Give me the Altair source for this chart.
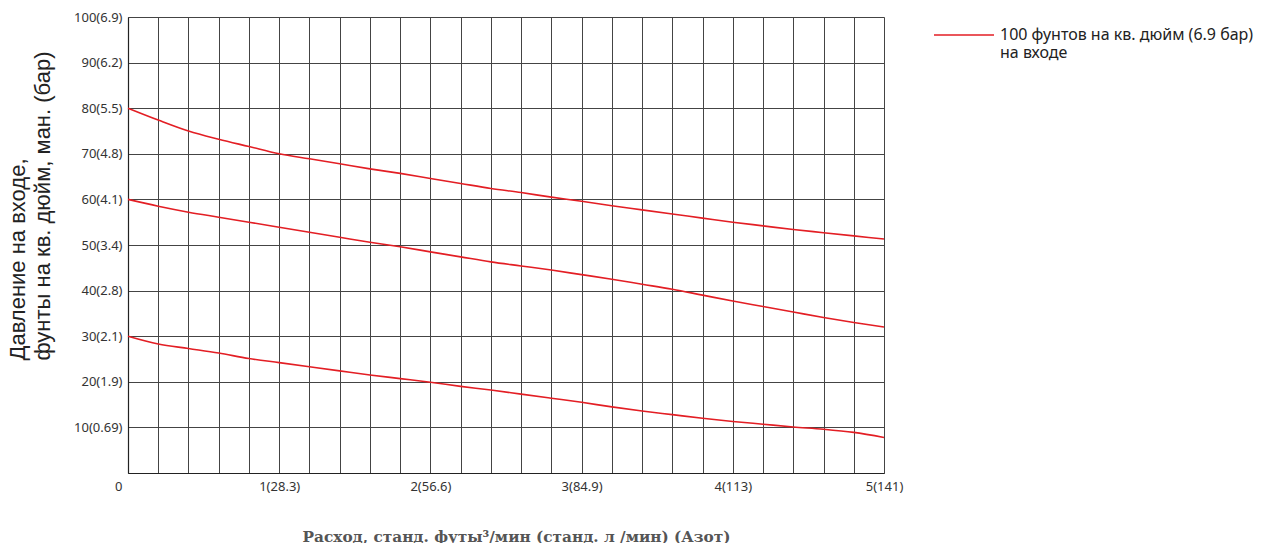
import altair as alt
import pandas as pd

flow = [0.0, 0.2, 0.4, 0.6, 0.8, 1.0, 1.2, 1.4, 1.6, 1.8, 2.0, 2.2, 2.4,
        2.6, 2.8, 3.0, 3.2, 3.4, 3.6, 3.8, 4.0, 4.2, 4.4, 4.6, 4.8, 5.0]
curve_80 = [80.0, 77.4, 75.0, 73.2, 71.6, 70.0, 68.9, 67.8, 66.7, 65.7, 64.6, 63.5, 62.4,
            61.5, 60.5, 59.6, 58.6, 57.7, 56.8, 55.9, 55.0, 54.2, 53.4, 52.7, 52.0, 51.3]
curve_60 = [60.0, 58.5, 57.2, 56.1, 55.0, 53.9, 52.8, 51.7, 50.6, 49.6, 48.5, 47.4, 46.3,
            45.4, 44.5, 43.5, 42.5, 41.4, 40.3, 39.0, 37.7, 36.5, 35.3, 34.1, 33.0, 32.0]
curve_30 = [30.0, 28.3, 27.3, 26.3, 25.1, 24.2, 23.3, 22.4, 21.5, 20.7, 19.9, 19.0, 18.2,
            17.3, 16.4, 15.5, 14.5, 13.6, 12.8, 12.0, 11.3, 10.7, 10.1, 9.6, 8.9, 7.8]

x_ticks = [round(i * 0.2, 1) for i in range(26)]
x_labels = ["0", "1(28.3)", "2(56.6)", "3(84.9)", "4(113)", "5(141)"]
y_ticks = [0, 10, 20, 30, 40, 50, 60, 70, 80, 90, 100]
y_labels = ["", "10(0.69)", "20(1.9)", "30(2.1)", "40(2.8)", "50(3.4)",
            "60(4.1)", "70(4.8)", "80(5.5)", "90(6.2)", "100(6.9)"]
legend_label = "100 фунтов на кв. дюйм (6.9 бар)"
legend_label2 = "на входе"

rows = []
for name, vals in [("c80", curve_80), ("c60", curve_60), ("c30", curve_30)]:
    for f, v in zip(flow, vals):
        rows.append({"flow": f, "pressure": v, "curve": name, "series": legend_label})
df = pd.DataFrame(rows)

x_arr = "[" + ",".join("'" + s + "'" for s in x_labels) + "]"
x_label_expr = ("abs(datum.value - round(datum.value)) < 0.01 ? " + x_arr +
                "[round(datum.value)] : ''")
y_label_expr = "[" + ",".join("'" + s + "'" for s in y_labels) + "][round(datum.value/10)]"

chart = alt.Chart(df).mark_line(strokeWidth=1.6, interpolate="monotone").encode(
    x=alt.X("flow:Q", scale=alt.Scale(domain=[0, 5], nice=False),
            axis=alt.Axis(values=x_ticks, labelExpr=x_label_expr, ticks=False,
                          labelPadding=7, labelFontSize=13, labelFont="Noto Sans",
                          labelColor="#333", labelOverlap=False, labelBound=False,
                          labelAlign={"condition": {"test": "datum.value === 0", "value": "right"}, "value": "center"},
                          labelOffset={"condition": {"test": "datum.value === 0", "value": -6}, "value": 0},
                          grid=True, gridColor="#444", gridWidth=1, gridOpacity=1,
                          domainColor="#222", domainWidth=1.2,
                          title="Расход, станд. футы³/мин (станд. л /мин) (Азот)",
                          titleFont="DejaVu Serif", titleFontWeight="bold", titleFontSize=15.3,
                          titleColor="#555", titleX=388, titleY=68, titleAlign="center",
                          titleBaseline="alphabetic")),
    y=alt.Y("pressure:Q", scale=alt.Scale(domain=[0, 100], nice=False),
            axis=alt.Axis(values=y_ticks, labelExpr=y_label_expr, ticks=False,
                          labelPadding=6, labelFontSize=13, labelFont="Noto Sans",
                          labelColor="#333", labelOverlap=False,
                          grid=True, gridColor="#444", gridWidth=1, gridOpacity=1,
                          domainColor="#222", domainWidth=1.2,
                          title=["Давление на входе,", "фунты на кв. дюйм, ман. (бар)"],
                          titleFont="Liberation Sans", titleFontWeight="normal", titleFontSize=22,
                          titleColor="#222", titleAngle=270, titleX=-121, titleY=343,
                          titleAlign="left", titleBaseline="top", titleLineHeight=25)),
    detail="curve:N",
    color=alt.Color("series:N", scale=alt.Scale(range=["#e31e24"]),
                    legend=alt.Legend(title=None, orient="none", legendX=805, legendY=-13,
                                      symbolType="stroke", symbolSize=3600,
                                      symbolStrokeWidth=1.6, labelOffset=5, padding=0,
                                      labelFont="Noto Sans", labelFontSize=16,
                                      labelColor="#222", labelLimit=500,
                                      labelBaseline="middle",
                                      labelExpr="['" + legend_label + "', '" + legend_label2 + "']")),
).properties(
    width=756, height=456,
    autosize=alt.AutoSizeParams(type="none"),
    padding={"left": 120, "top": 9, "right": 372, "bottom": 72},
).configure_view(stroke="#888", strokeWidth=1.2).configure(background="white")

chart.save("out.html", embed_options={"renderer": "svg", "actions": False})
